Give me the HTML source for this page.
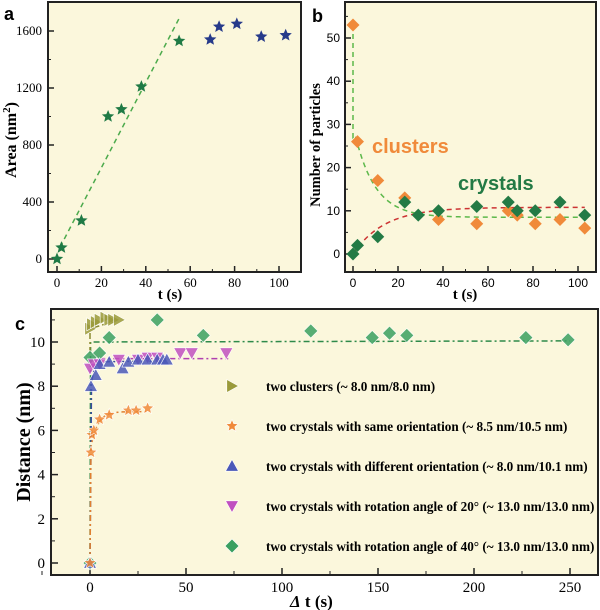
<!DOCTYPE html>
<html><head><meta charset="utf-8"><style>
html,body{margin:0;padding:0;background:#fff;width:600px;height:610px;overflow:hidden}
svg{display:block}
text{font-family:"Liberation Serif",serif}
</style></head><body>
<svg id="s" width="600" height="610" viewBox="0 0 600 610" xmlns="http://www.w3.org/2000/svg"></svg>
<script>
// Panel a data
const aGreenT=[0,2,11,23,29,38,55];
const aGreenArea=[0,80,270,1000,1050,1210,1530];
const aBlueT=[69,73,81,92,103];
const aBlueArea=[1540,1630,1650,1560,1570];
const aFit=[[1.4,84],[55.4,1700]];
const aYTicks=[0,400,800,1200,1600];
const aXTicks=[0,20,40,60,80,100];
// Panel b data
const bT=[0,2,11,23,38,55,69,73,81,92,103];
const bClusters=[53,26,17,13,8,7,10,9,7,8,6];
const bCrT=[0,2,11,23,29,38,55,69,73,81,92,103];
const bCrystals=[0,2,4,12,9,10,11,12,10,10,12,9];
const bYTicks=[0,10,20,30,40,50];
const bXTicks=[0,20,40,60,80,100];
// Panel c data
const cClT=[0,1,3,5,8,10,12,15];
const cClY=[10.6,10.8,10.9,11,11.1,11,11,11];
const cSameT=[0,0.5,1,2,5,10,20,24,30];
const cSameY=[0,5,5.8,6,6.5,6.7,6.9,6.9,7];
const cDiffT=[0,0.5,3,5,10,17,20,25,30,35,38,40];
const cDiffY=[0,8,8.5,9,9.1,8.8,9.1,9.2,9.2,9.2,9.2,9.2];
const c20T=[0,2,5,15,25,30,35,47,53,71];
const c20Y=[8.8,9,9,9.2,9.2,9.3,9.3,9.5,9.5,9.5];
const c40T=[0,0,5,10,35,59,115,147,156,165,227,249];
const c40Y=[0,9.3,9.5,10.2,11,10.3,10.5,10.2,10.4,10.3,10.2,10.1];
const cYTicks=[0,2,4,6,8,10];
const cXTicks=[0,50,100,150,200,250];
const cLegend=["two clusters (~ 8.0 nm/8.0 nm)","two crystals with same orientation (~ 8.5 nm/10.5 nm)","two crystals with different orientation (~ 8.0 nm/10.1 nm)","two crystals with rotation angle of 20° (~ 13.0 nm/13.0 nm)","two crystals with rotation angle of 40° (~ 13.0 nm/13.0 nm)"];

const S=document.getElementById('s');const NS='http://www.w3.org/2000/svg';
function el(t,a,p){const e=document.createElementNS(NS,t);for(const k in a)e.setAttribute(k,a[k]);(p||S).appendChild(e);return e;}
function txt(x,y,s,a,p){const e=el('text',Object.assign({x:x,y:y},a),p);e.textContent=s;return e;}
function lin(d0,d1,r0,r1){return v=>r0+(v-d0)*(r1-r0)/(d1-d0);}
function star(cx,cy,r){let p=[];for(let i=0;i<10;i++){const a=-Math.PI/2+i*Math.PI/5;const rr=i%2?r*0.45:r;p.push((cx+rr*Math.cos(a)).toFixed(1)+','+(cy+rr*Math.sin(a)).toFixed(1));}return p.join(' ');}
function diamond(cx,cy,r){return `${cx},${cy-r} ${cx+r},${cy} ${cx},${cy+r} ${cx-r},${cy}`;}
function tri(cx,cy,r,dir){if(dir=='up')return `${cx},${cy-r} ${cx+r},${cy+r*0.8} ${cx-r},${cy+r*0.8}`;if(dir=='down')return `${cx},${cy+r} ${cx+r},${cy-r*0.8} ${cx-r},${cy-r*0.8}`;return `${cx+r},${cy} ${cx-r*0.8},${cy-r} ${cx-r*0.8},${cy+r}`;}
function frame(x0,y0,x1,y1,name){el('rect',{x:x0,y:y0,width:x1-x0,height:y1-y0,fill:'#fbf7dc',stroke:'#222','stroke-width':2,});}

// ===== Panel a =====
const ax=lin(0,100,57,279), ay=lin(0,1600,259,31);
frame(48,2,301,272,'panel-a-plot-area');
const ga=el('g',{});


aYTicks.forEach(v=>{el('line',{x1:48,x2:54,y1:ay(v),y2:ay(v),stroke:'#222','stroke-width':1.5},ga);const t=txt(42,ay(v)+4,v,{'text-anchor':'end','font-size':13},ga);
 if(v<1600)el('line',{x1:48,x2:51,y1:ay(v+200),y2:ay(v+200),stroke:'#222'},ga);});
aXTicks.forEach(v=>{el('line',{x1:ax(v),x2:ax(v),y1:272,y2:266,stroke:'#222','stroke-width':1.5},ga);const t=txt(ax(v),287,v,{'text-anchor':'middle','font-size':13},ga);
 if(v<100)el('line',{x1:ax(v+10),x2:ax(v+10),y1:272,y2:269,stroke:'#222'},ga);});
const afl=el('line',{x1:ax(aFit[0][0]),y1:ay(aFit[0][1]),x2:ax(aFit[1][0]),y2:ay(aFit[1][1]),stroke:'#4caa4c','stroke-width':1.5,'stroke-dasharray':'5,4'},ga);

aGreenT.forEach((t,i)=>{const p=el('polygon',{points:star(ax(t),ay(aGreenArea[i]),6.5),fill:'#1f7a45'},ga);});
aBlueT.forEach((t,i)=>{const p=el('polygon',{points:star(ax(t),ay(aBlueArea[i]),6.5),fill:'#263a8a'},ga);});
let e=txt(16,140,'Area (nm',{'font-size':16,'font-weight':'bold','text-anchor':'middle',transform:'rotate(-90 16 140)'},ga);
const sup=el('tspan',{dy:-6,'font-size':11},e);sup.textContent='2';const cl=el('tspan',{dy:6},e);cl.textContent=')';

e=txt(170,299,'t (s)',{'font-size':15,'font-weight':'bold','text-anchor':'middle'},ga);
e=txt(4,20,'a',{'font-size':18,'font-weight':'bold',style:'font-family:Liberation Sans,sans-serif'},ga);

// ===== Panel b =====
const bx=lin(0,100,353,578), by=lin(0,50,254,38);
frame(345,2,596,272,'panel-b-plot-area');
const gb=el('g',{});


bYTicks.forEach(v=>{el('line',{x1:345,x2:351,y1:by(v),y2:by(v),stroke:'#222','stroke-width':1.5},gb);const t=txt(340,by(v)+4,v,{'text-anchor':'end','font-size':12,style:'font-family:Liberation Sans,sans-serif'},gb);
 el('line',{x1:345,x2:348,y1:by(v+5),y2:by(v+5),stroke:'#222'},gb);});
bXTicks.forEach(v=>{el('line',{x1:bx(v),x2:bx(v),y1:272,y2:266,stroke:'#222','stroke-width':1.5},gb);const t=txt(bx(v),287,v,{'text-anchor':'middle','font-size':12,style:'font-family:Liberation Sans,sans-serif'},gb);
 if(v<100)el('line',{x1:bx(v+10),x2:bx(v+10),y1:272,y2:269,stroke:'#222'},gb);});
let pts=[[bx(0),by(53)],[bx(0),by(27)]];for(let t=1;t<=103;t+=1)pts.push([bx(t),by(8.5+19*Math.exp(-(t-1)/9))]);
e=el('polyline',{points:pts.map(p=>p.join(',')).join(' '),fill:'none',stroke:'#5cb84a','stroke-width':1.5,'stroke-dasharray':'5,4'},gb);
pts=[];for(let t=0;t<=103;t+=1)pts.push([bx(t),by(10.8*(1-Math.exp(-t/14)))]);
e=el('polyline',{points:pts.map(p=>p.join(',')).join(' '),fill:'none',stroke:'#cc3333','stroke-width':1.5,'stroke-dasharray':'5,4'},gb);
bT.forEach((t,i)=>{const p=el('polygon',{points:diamond(bx(t),by(bClusters[i]),6.5),fill:'#f08a3a'},gb);});
bCrT.forEach((t,i)=>{const p=el('polygon',{points:diamond(bx(t),by(bCrystals[i]),6.5),fill:'#237a45'},gb);});
e=txt(372,153,'clusters',{'font-size':20,'font-weight':'bold',fill:'#f08a3a',style:'font-family:Liberation Sans,sans-serif'},gb);
e=txt(458,190,'crystals',{'font-size':20,'font-weight':'bold',fill:'#237a45',style:'font-family:Liberation Sans,sans-serif'},gb);
e=txt(320,145,'Number of particles',{'font-size':14.5,'font-weight':'bold','text-anchor':'middle',transform:'rotate(-90 320 145)'},gb);
e=txt(465,299,'t (s)',{'font-size':15,'font-weight':'bold','text-anchor':'middle'},gb);
e=txt(312,22,'b',{'font-size':18,'font-weight':'bold',style:'font-family:Liberation Sans,sans-serif'},gb);

// ===== Panel c =====
const cx=lin(0,250,90,570), cy=lin(0,10,563,342);
frame(51,309,598,575,'panel-c-plot-area');
const gc=el('g',{});


cYTicks.forEach(v=>{el('line',{x1:51,x2:58,y1:cy(v),y2:cy(v),stroke:'#222','stroke-width':1.5},gc);const t=txt(45,cy(v)+5,v,{'text-anchor':'end','font-size':15},gc);
 el('line',{x1:51,x2:55,y1:cy(v+1),y2:cy(v+1),stroke:'#222'},gc);});
cXTicks.forEach(v=>{el('line',{x1:cx(v),x2:cx(v),y1:575,y2:568,stroke:'#222','stroke-width':1.5},gc);const t=txt(cx(v),592,v,{'text-anchor':'middle','font-size':15},gc);
 el('line',{x1:cx(v+25),x2:cx(v+25),y1:575,y2:571,stroke:'#222'},gc);});
el('line',{x1:cx(-25),x2:cx(-25),y1:575,y2:571,stroke:'#222'},gc);
function dl(pp,col,name){const l=el('polyline',{points:pp.map(p=>cx(p[0])+','+cy(p[1])).join(' '),fill:'none',stroke:col,'stroke-width':1.5,'stroke-dasharray':'6,3,2,3'},gc);}
dl([[0,0],[0.3,10],[250,10.05]],'#2e8a4a','c-fit-40deg');
dl([[0,9],[0.5,9.25],[72,9.25]],'#b040b0','c-fit-20deg');
dl([[0,0],[0.8,8.2],[3,9.1],[40,9.15]],'#3a4aa0','c-fit-diff');
pts=[[0,0]];for(let t=0.5;t<=30;t+=0.5)pts.push([t,6.85-1.6*Math.exp(-(t-0.5)/3.5)]);
dl(pts,'#e08030','c-fit-same');
dl([[0,9.5],[0,10.6],[15,11]],'#8a8a30','c-fit-clusters');
function mk(shape,x,y,fill,name){const p=el('polygon',{points:shape(x,y),fill:fill,stroke:'#fff','stroke-width':0.6,'fill-opacity':0.85},gc);return p;}
c40T.forEach((t,i)=>mk((x,y)=>diamond(x,y,7),cx(t),cy(c40Y[i]),'#3aa060','c-point-40deg'));
c20T.forEach((t,i)=>mk((x,y)=>tri(x,y,6.5,'down'),cx(t),cy(c20Y[i]),'#c050c0','c-point-20deg'));
cDiffT.forEach((t,i)=>mk((x,y)=>tri(x,y,6.5,'up'),cx(t),cy(cDiffY[i]),'#4a58b8','c-point-diff'));
cSameT.forEach((t,i)=>mk((x,y)=>star(x,y,6.5),cx(t),cy(cSameY[i]),'#f08a3a','c-point-same'));
cClT.forEach((t,i)=>mk((x,y)=>tri(x,y,6.5,'right'),cx(t),cy(cClY[i]),'#9a9a3a','c-point-clusters'));
const legShapes=[(x,y)=>tri(x,y,6.5,'right'),(x,y)=>star(x,y,6.5),(x,y)=>tri(x,y,6.5,'up'),(x,y)=>tri(x,y,6.5,'down'),(x,y)=>diamond(x,y,7)];
const legCols=['#9a9a3a','#f08a3a','#4a58b8','#c050c0','#3aa060'];
cLegend.forEach((s,i)=>{const y=386+i*40;const p=el('polygon',{points:legShapes[i](232,y),fill:legCols[i],stroke:'#fff','stroke-width':0.6},gc);
 const t=txt(266,y+5,s,{'font-size':13.2,'font-weight':'bold'},gc);});
e=txt(30,442,'Distance (nm)',{'font-size':20,'font-weight':'bold','text-anchor':'middle',transform:'rotate(-90 30 442)'},gc);
e=txt(290,607,'',{'font-size':17,'font-weight':'bold'},gc);const d=el('tspan',{'font-style':'italic'},e);d.textContent='Δ';const rr=el('tspan',{},e);rr.textContent=' t (s)';

e=txt(15,330,'c',{'font-size':18,'font-weight':'bold',style:'font-family:Liberation Sans,sans-serif'},gc);
</script>
</body></html>
